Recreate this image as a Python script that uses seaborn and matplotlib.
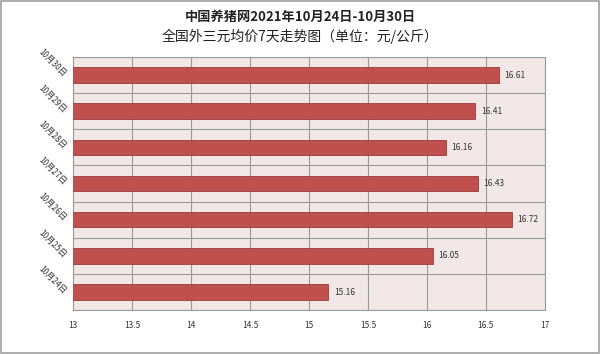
import seaborn as sns
import pandas as pd
import matplotlib.pyplot as plt
from matplotlib.patches import Rectangle

dates = ["10月30日", "10月29日", "10月28日", "10月27日", "10月26日", "10月25日", "10月24日"]
prices = [16.61, 16.41, 16.16, 16.43, 16.72, 16.05, 15.16]
x_ticks = [13, 13.5, 14, 14.5, 15, 15.5, 16, 16.5, 17]
x_tick_labels = ["13", "13.5", "14", "14.5", "15", "15.5", "16", "16.5", "17"]

sns.set_style("white")
plt.rcParams['font.family'] = ['Noto Sans CJK SC', 'DejaVu Sans']

df = pd.DataFrame({"date": dates, "price": prices})

fig = plt.figure(figsize=(6, 3.54), dpi=100)
ax = fig.add_axes([0.122, 0.124, 0.786, 0.715])

sns.barplot(data=df, x="price", y="date", order=dates, orient="h", color="#C0504D",
            saturation=1, width=0.43, edgecolor="#9A3B39", linewidth=0.6, ax=ax, zorder=3)

ax.set_xlim(13, 17)
ax.set_ylim(len(dates) - 0.5, -0.5)
ax.set_facecolor("#F2E7E7")
ax.set_xticks(x_ticks)
ax.set_xticklabels(x_tick_labels, fontsize=6, color="#333333")
ax.set_yticks(range(len(dates)))
ax.set_yticklabels(dates, fontsize=6, rotation=-45, ha="right", va="center",
                   rotation_mode="anchor", color="#333333")
ax.set_yticks([i + 0.5 for i in range(-1, len(dates))], minor=True)
ax.tick_params(axis="both", length=0, pad=8)
ax.tick_params(axis="y", pad=6)
ax.grid(False)
ax.xaxis.grid(True, color="#9A9A9A", linewidth=0.8, zorder=0)
ax.yaxis.grid(True, which="minor", color="#9A9A9A", linewidth=0.8, zorder=0)
ax.set_axisbelow(True)
for s in ax.spines.values():
    s.set_color("#9A9A9A")
    s.set_linewidth(0.8)
ax.set_xlabel("")
ax.set_ylabel("")

for i, v in enumerate(prices):
    ax.text(v + 0.05, i, f"{v:.2f}", fontsize=6, va="center", ha="left", color="#333333")

fig.text(0.5, 0.952, "中国养猪网2021年10月24日-10月30日", ha="center", va="center",
         fontsize=9.5, fontweight="bold", color="#222222")
fig.text(0.5, 0.898, "全国外三元均价7天走势图（单位：元/公斤）", ha="center", va="center",
         fontsize=10, color="#222222")

fig.patches.append(Rectangle((0.002, 0.003), 0.996, 0.994, transform=fig.transFigure,
                             fill=False, edgecolor="#A0A0A0", linewidth=1.2))

fig.savefig("out.png", dpi=100)
